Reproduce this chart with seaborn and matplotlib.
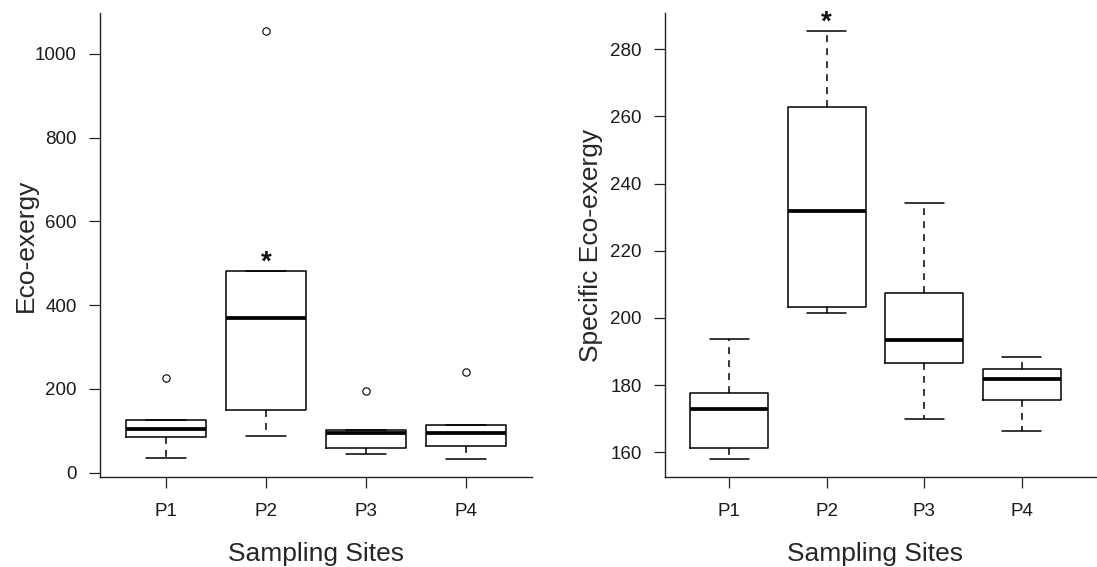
import matplotlib
matplotlib.use("Agg")
import matplotlib.pyplot as plt
import pandas as pd
import seaborn as sns

sites = ["P1", "P2", "P3", "P4"]

# Eco-exergy per sampling site: whisker ends, hinges and medians
eco_low = [36.3, 88.7, 44.4, 33.9]
eco_q1 = [85.5, 149.0, 58.0, 63.0]
eco_median = [104.8, 369.5, 95.0, 94.4]
eco_q3 = [126.6, 481.0, 102.4, 113.0]
eco_high = [126.6, 481.0, 102.4, 113.0]
eco_outlier_sites = ["P1", "P2", "P3", "P4"]
eco_outliers = [225.8, 1055.0, 195.0, 239.5]
eco_ticks = [0, 200, 400, 600, 800, 1000]

# Specific eco-exergy per sampling site
spec_low = [158.0, 201.4, 170.0, 166.2]
spec_q1 = [161.2, 203.2, 186.6, 175.4]
spec_median = [173.0, 231.8, 193.3, 181.7]
spec_q3 = [177.7, 262.8, 207.5, 184.8]
spec_high = [193.6, 285.5, 234.3, 188.2]
spec_ticks = [160, 180, 200, 220, 240, 260, 280]

# site flagged as significantly different
marked_site = "P2"


def five_number_frame(low, q1, med, q3, high):
    """Long table holding each site's five-number summary."""
    rows = []
    for site, *vals in zip(sites, low, q1, med, q3, high):
        rows += [(site, v) for v in vals]
    return pd.DataFrame(rows, columns=["site", "value"])


sns.set_theme(style="ticks")
plt.rcParams["font.family"] = ["Liberation Sans", "DejaVu Sans"]
plt.rcParams["axes.edgecolor"] = "#222222"

fig = plt.figure(figsize=(10.97, 5.67), dpi=100)
ax1 = fig.add_axes([0.09116, 0.15926, 0.39380, 0.81728])
ax2 = fig.add_axes([0.60620, 0.15926, 0.39380, 0.81728])

line_w = 1.1
box_kws = dict(
    order=sites, width=0.8, whis=1.5, fill=False, color="black",
    linewidth=line_w, showfliers=False,
    boxprops=dict(linewidth=line_w),
    medianprops=dict(linewidth=2.7, color="black"),
    whiskerprops=dict(linewidth=line_w, linestyle=(0, (4.5, 4)), color="black"),
    capprops=dict(linewidth=line_w, color="black"),
)

eco_df = five_number_frame(eco_low, eco_q1, eco_median, eco_q3, eco_high)
spec_df = five_number_frame(spec_low, spec_q1, spec_median, spec_q3, spec_high)

sns.boxplot(data=eco_df, x="site", y="value", ax=ax1, **box_kws)
sns.stripplot(x=eco_outlier_sites, y=eco_outliers, order=sites, jitter=False,
              ax=ax1, color="white", edgecolor="black", linewidth=0.8,
              size=5.3, zorder=4)
sns.boxplot(data=spec_df, x="site", y="value", ax=ax2, **box_kws)

# significance marks above the flagged site
mi = sites.index(marked_site)
for ax, top in ((ax1, max(eco_q3[mi], eco_high[mi])),
                (ax2, max(spec_q3[mi], spec_high[mi]))):
    ax.annotate("*", xy=(mi, top), xytext=(0, 1), textcoords="offset points",
                ha="center", va="baseline", fontsize=20, fontweight="bold",
                color="#111111", annotation_clip=False)

ax1.set_ylim(-9.5, 1097)
ax1.set_yticks(eco_ticks)
ax1.set_ylabel("Eco-exergy", fontsize=19)
ax1.yaxis.set_label_coords(-0.1438, 0.5)
ax1.set_xlim(-0.66, 3.66)

ax2.set_ylim(152.7, 290.7)
ax2.set_yticks(spec_ticks)
ax2.set_ylabel("Specific Eco-exergy", fontsize=19)
ax2.yaxis.set_label_coords(-0.1438, 0.5)
ax2.set_xlim(-0.66, 3.773)

for ax in (ax1, ax2):
    sns.despine(ax=ax)
    for side in ("left", "bottom"):
        ax.spines[side].set_linewidth(1.0)
        ax.spines[side].set_color("#222222")
    ax.set_xticks(range(len(sites)))
    ax.set_xticklabels(sites)
    ax.tick_params(direction="out", length=7.7, width=0.9, colors="#222222",
                   labelsize=13.5, labelcolor="#1a1a1a")
    ax.tick_params(axis="y", pad=9)
    ax.tick_params(axis="x", pad=11)
    ax.grid(False)

ax1.set_xlabel("Sampling Sites", fontsize=19)
ax1.xaxis.set_label_coords(0.5, -0.140)
ax2.set_xlabel("Sampling Sites", fontsize=19)
# centre the right label under the category span rather than the full axis
ax2.xaxis.set_label_coords((1.5 + 0.66) / (3.773 + 0.66), -0.140)

fig.savefig("out.png", dpi=100, facecolor="white")
